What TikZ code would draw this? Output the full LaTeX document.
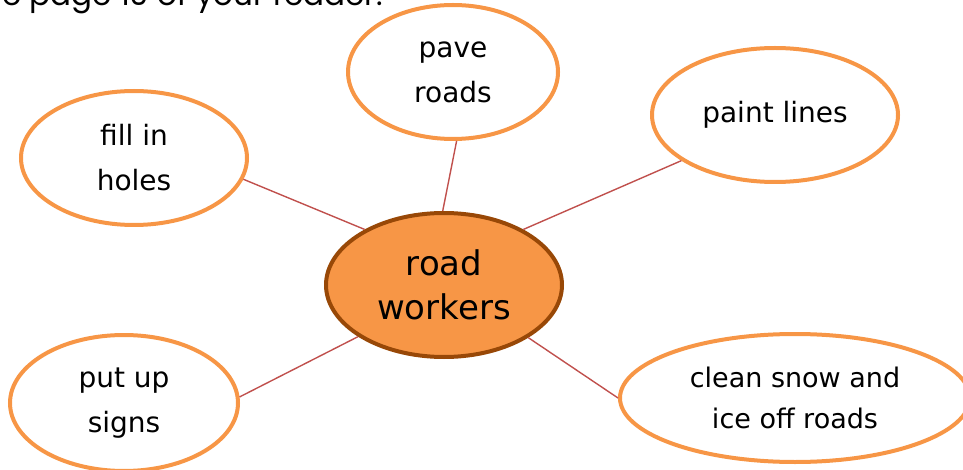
\documentclass[tikz,border=0pt]{standalone}
\usepackage{fontspec}
\setmainfont{DejaVu Sans}
\newfontfamily\headfont{Poppins}
\usetikzlibrary{shapes.geometric}

\definecolor{bubbleline}{HTML}{F79646}
\definecolor{hubfill}{HTML}{F79646}
\definecolor{hubline}{HTML}{984807}
\definecolor{spokeline}{HTML}{C0504D}

\begin{document}
\begin{tikzpicture}[x=1pt, y=-1pt,
        bubble/.style={ellipse, draw=bubbleline, line width=4pt, inner sep=0pt, align=center, font=\fontsize{28}{45}\selectfont},
        hub/.style={ellipse, draw=hubline, fill=hubfill, line width=4pt, inner sep=0pt, align=center, font=\fontsize{34}{44}\selectfont},
        spoke/.style={draw=spokeline, line width=1.4pt}]
    \useasboundingbox (0,0) rectangle (963,470);
    \clip (0,0) rectangle (963,470);
    % line of text cut off at the top
    \node[anchor=base west, inner sep=0pt, font=\headfont\fontsize{31}{36}\selectfont] (caption) at (2,6) {e page 10 of your reader.};
    % centre and the five jobs
    \node[hub, minimum width=236, minimum height=144] (workers) at (444,285) {road\\workers};
    \node[bubble, minimum width=226, minimum height=134] (holes) at (134,158) {fill in\\holes};
    \node[bubble, minimum width=210, minimum height=134] (pave) at (453,72) {pave\\roads};
    \node[bubble, minimum width=246, minimum height=134] (paint) at (775,115) {paint lines};
    \node[bubble, minimum width=228, minimum height=136] (signs) at (124,403) {put up\\signs};
    \node[bubble, minimum width=350, minimum height=128, font=\fontsize{27}{41}\selectfont] (snow) at (795,398) {clean snow and\\ice off roads};
    \draw[spoke]
        (holes.-11) -- (workers.145)
        (pave.-87) -- (workers.91)
        (paint.206) -- (workers.35)
        (signs.3) -- (workers.211)
        (snow.180) -- (workers.-32);
\end{tikzpicture}
\end{document}
